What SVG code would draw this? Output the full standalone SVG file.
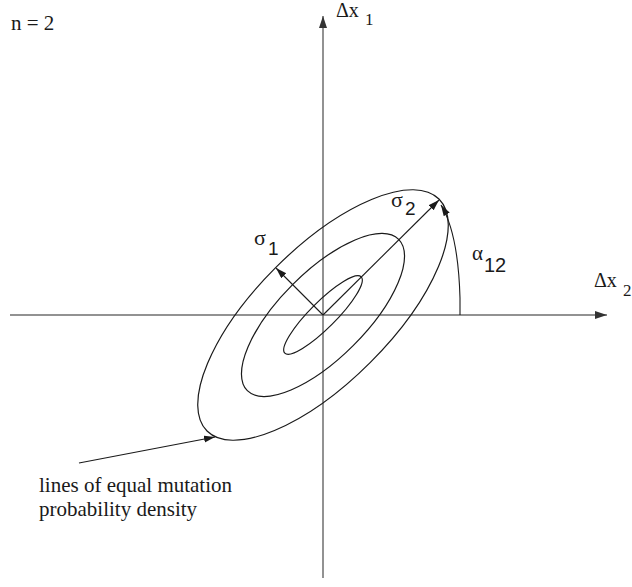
<svg xmlns="http://www.w3.org/2000/svg" width="632" height="587" viewBox="0 0 632 587">
<style>
.axis{stroke:#6e6e6e;stroke-width:1.5;fill:none}
.curve{stroke:#1a1a1a;stroke-width:1.2;fill:none}
.arr{stroke:#1a1a1a;stroke-width:1.1;fill:none}
.serif{font-family:"Liberation Serif","Times New Roman",serif;fill:#1a1a1a}
.sans{font-family:"Liberation Sans",Arial,sans-serif;fill:#1a1a1a}
</style>
<defs>
<marker id="axhead" markerUnits="userSpaceOnUse" markerWidth="14" markerHeight="10" refX="12" refY="4" orient="auto">
<path d="M0,0 L12,4 L0,8 Z" fill="#333"/>
</marker>
<marker id="head" markerUnits="userSpaceOnUse" markerWidth="14" markerHeight="10" refX="11" refY="3.5" orient="auto">
<path d="M0,0 L11,3.5 L0,7 Z" fill="#1a1a1a"/>
</marker>
</defs>
<g id="axes">
<line class="axis" x1="10" y1="315" x2="607" y2="315" marker-end="url(#axhead)"/>
<line class="axis" x1="323" y1="578" x2="323" y2="16" marker-end="url(#axhead)"/>
</g>
<g id="ellipses">
<ellipse id="outer" class="curve" cx="323" cy="315" rx="164" ry="67" transform="rotate(-45 323 315)"/>
<ellipse id="middle" class="curve" cx="323" cy="315" rx="107" ry="43" transform="rotate(-45 323 315)"/>
<ellipse id="inner" class="curve" cx="323" cy="315" rx="54" ry="13" transform="rotate(-45 323 315)"/>
</g>
<g id="connectors">
<line class="arr" x1="323" y1="315" x2="439" y2="200" marker-end="url(#head)"/>
<line class="arr" x1="323" y1="315" x2="276" y2="268" marker-end="url(#head)"/>
<path class="arr" d="M460,315 L460,298 C459,262 455,228 441,205" marker-end="url(#head)"/>
<line class="arr" x1="79" y1="463" x2="215" y2="437" marker-end="url(#head)"/>
</g>
<g id="labels">
<text class="serif" x="11" y="30" font-size="21">n = 2</text>
<text class="serif" x="336" y="17" font-size="20">Δx</text>
<text class="serif" x="365" y="25" font-size="17">1</text>
<text class="serif" x="594" y="287" font-size="20">Δx</text>
<text class="serif" x="623" y="296" font-size="17">2</text>
<text class="serif" x="391" y="207" font-size="22">σ</text>
<text class="sans" x="405" y="215" font-size="19">2</text>
<text class="serif" x="254" y="245" font-size="22">σ</text>
<text class="sans" x="268" y="255" font-size="19">1</text>
<text class="serif" x="472" y="260" font-size="21">α</text>
<text class="sans" x="484" y="272" font-size="20">12</text>
<text class="serif" x="39" y="492" font-size="21">lines of equal mutation</text>
<text class="serif" x="39" y="516" font-size="21">probability density</text>
</g>
</svg>
